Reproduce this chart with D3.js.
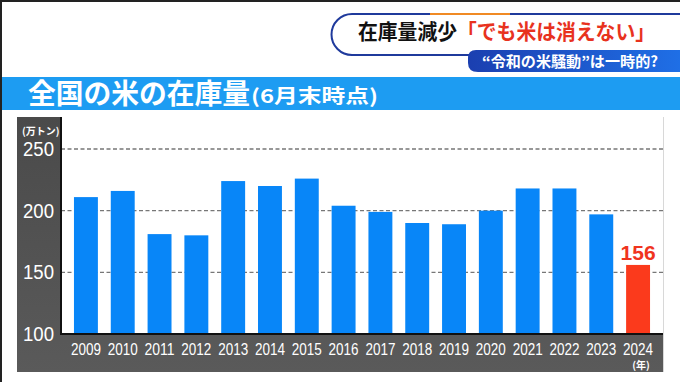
<!DOCTYPE html>
<html>
  <head>
    <meta charset="utf-8">
    <script src="https://d3js.org/d3.v7.min.js"></script>
    <title>全国の米の在庫量</title>
    <style type="text/css">
body {
  margin: 0;
  background: #fff;
}
svg {
  display: block;
}
.jp {
  font-family: 'Noto Sans CJK JP', sans-serif;
  font-weight: 700;
}
.num {
  font-family: 'Liberation Sans', Arial, sans-serif;
}
    </style>
  </head>
  <body>
<svg></svg>
<script type="text/javascript">
// data (万トン, stock at end of June)
const years = ["2009", "2010", "2011", "2012", "2013", "2014", "2015", "2016",
               "2017", "2018", "2019", "2020", "2021", "2022", "2023", "2024"];
const stocks = [211, 216, 181, 180, 224, 220, 226, 204,
                199, 190, 189, 200, 218, 218, 197, 156];
const yTicks = [100, 150, 200, 250];
const highlightYear = "2024";

const width = 680, height = 382;
const svg = d3.select("svg").attr("width", width).attr("height", height);

// ---- header ----
const blueGrad = svg.append("defs").append("linearGradient")
    .attr("id", "subBlue").attr("x1", 0).attr("x2", 1);
blueGrad.append("stop").attr("offset", 0).attr("stop-color", "#1b3fb0");
blueGrad.append("stop").attr("offset", 1).attr("stop-color", "#1f6fe6");

// outlined headline box
svg.append("path")
    .attr("d", "M680,14 H352 A20,20 0 0 0 352,55 H470")
    .attr("fill", "#fff")
    .attr("stroke", "#1f3a9c")
    .attr("stroke-width", 2);
svg.append("line")
    .attr("x1", 430).attr("x2", 510).attr("y1", 14).attr("y2", 14)
    .attr("stroke", "#f08a24").attr("stroke-width", 2);

const headline = svg.append("text")
    .attr("class", "jp")
    .attr("x", 358).attr("y", 39)
    .attr("font-size", 21)
    .attr("font-weight", 900)
    .attr("textLength", 297)
    .attr("lengthAdjust", "spacingAndGlyphs");
headline.append("tspan").attr("fill", "#111").text("在庫量減少");
headline.append("tspan").attr("fill", "#e8321e").text("「でも米は消えない」");

// sub banner
svg.append("path")
    .attr("d", "M680,50 H476 Q468,50 468,58 V63 Q468,72 478,72 H680 Z")
    .attr("fill", "url(#subBlue)");
svg.append("text")
    .attr("class", "jp")
    .attr("x", 482).attr("y", 67)
    .attr("font-size", 14.5)
    .attr("fill", "#fff")
    .attr("textLength", 176)
    .attr("lengthAdjust", "spacingAndGlyphs")
    .text("“令和の米騒動”は一時的?");

// title bar
svg.append("rect")
    .attr("x", 0).attr("y", 77).attr("width", width).attr("height", 33)
    .attr("fill", "#1d9cf2");
svg.append("text")
    .attr("class", "jp")
    .attr("x", 28).attr("y", 104)
    .attr("font-size", 28)
    .attr("font-weight", 900)
    .attr("fill", "#fff")
    .attr("textLength", 222)
    .attr("lengthAdjust", "spacingAndGlyphs")
    .text("全国の米の在庫量");
svg.append("text")
    .attr("class", "jp")
    .attr("x", 251).attr("y", 103)
    .attr("font-size", 19)
    .attr("font-weight", 900)
    .attr("fill", "#fff")
    .attr("textLength", 127)
    .attr("lengthAdjust", "spacingAndGlyphs")
    .text("(6月末時点)");

// ---- chart panel ----
const panel = {left: 17, top: 117, right: 663, bottom: 372};
const plot = {left: 61, top: 117, right: 663, bottom: 334};

const panelGrad = svg.select("defs").append("linearGradient")
    .attr("id", "panelGray").attr("x1", 0).attr("x2", 0).attr("y1", 0).attr("y2", 1);
panelGrad.append("stop").attr("offset", 0).attr("stop-color", "#4a4a4a");
panelGrad.append("stop").attr("offset", 1).attr("stop-color", "#5a5a5a");

svg.append("rect")
    .attr("x", panel.left).attr("y", panel.top)
    .attr("width", panel.right - panel.left).attr("height", panel.bottom - panel.top)
    .attr("fill", "url(#panelGray)");
svg.append("rect")
    .attr("x", plot.left).attr("y", plot.top)
    .attr("width", plot.right - plot.left).attr("height", plot.bottom - plot.top)
    .attr("fill", "#fff");
svg.append("line")
    .attr("x1", 663.5).attr("x2", 663.5).attr("y1", 117).attr("y2", 372)
    .attr("stroke", "#d8d8d8");

const x = d3.scaleBand()
    .domain(years)
    .range([62, 662])
    .paddingInner(0.35)
    .paddingOuter(0.325);

const y = d3.scaleLinear()
    .domain([100, 250])
    .range([plot.bottom, 149]);

// dashed grid lines
svg.append("g")
  .selectAll("line")
  .data(yTicks.filter(t => t > 100))
  .enter().append("line")
    .attr("x1", plot.left).attr("x2", plot.right)
    .attr("y1", d => y(d)).attr("y2", d => y(d))
    .attr("stroke", "#777")
    .attr("stroke-width", 1.3)
    .attr("stroke-dasharray", "4,2.5");

// bars
svg.append("g")
  .selectAll("rect")
  .data(years.map((yr, i) => ({year: yr, value: stocks[i]})))
  .enter().append("rect")
    .attr("x", d => x(d.year))
    .attr("y", d => y(d.value))
    .attr("width", x.bandwidth())
    .attr("height", d => y(100) - y(d.value))
    .attr("fill", d => d.year === highlightYear ? "#fb3a1c" : "#0886f8");

// value label for the highlighted year
const hi = years.indexOf(highlightYear);
svg.append("text")
    .attr("class", "num")
    .attr("x", x(highlightYear) + x.bandwidth() / 2)
    .attr("y", y(stocks[hi]) - 5)
    .attr("text-anchor", "middle")
    .attr("font-size", 21)
    .attr("font-weight", 700)
    .attr("fill", "#f0341e")
    .text(stocks[hi]);

// axis lines
svg.append("path")
    .attr("d", `M${plot.left},${plot.top} V${plot.bottom} H${plot.right}`)
    .attr("fill", "none")
    .attr("stroke", "#111")
    .attr("stroke-width", 2);

// y tick labels
svg.append("g")
  .selectAll("text")
  .data(yTicks)
  .enter().append("text")
    .attr("class", "num")
    .attr("x", 54)
    .attr("y", d => y(d) + 7)
    .attr("text-anchor", "end")
    .attr("font-size", 20)
    .attr("fill", "#fff")
    .attr("textLength", 31)
    .attr("lengthAdjust", "spacingAndGlyphs")
    .text(d => d);

svg.append("text")
    .attr("class", "jp")
    .attr("x", 22).attr("y", 135)
    .attr("font-size", 10)
    .attr("fill", "#fff")
    .text("(万トン)");

// x tick labels
svg.append("g")
  .selectAll("text")
  .data(years)
  .enter().append("text")
    .attr("class", "num")
    .attr("x", d => x(d) + x.bandwidth() / 2)
    .attr("y", 355)
    .attr("text-anchor", "middle")
    .attr("font-size", 16)
    .attr("fill", "#fff")
    .attr("textLength", 30)
    .attr("lengthAdjust", "spacingAndGlyphs")
    .text(d => d);

svg.append("text")
    .attr("class", "jp")
    .attr("x", x(highlightYear) + x.bandwidth() / 2 + 3)
    .attr("y", 369)
    .attr("text-anchor", "middle")
    .attr("font-size", 10)
    .attr("fill", "#fff")
    .text("(年)");

// thin frame on the left/top edge
svg.append("path")
    .attr("d", `M1,${height} V1 H${width}`)
    .attr("fill", "none")
    .attr("stroke", "#222")
    .attr("stroke-width", 2);
</script>
  </body>
</html>
